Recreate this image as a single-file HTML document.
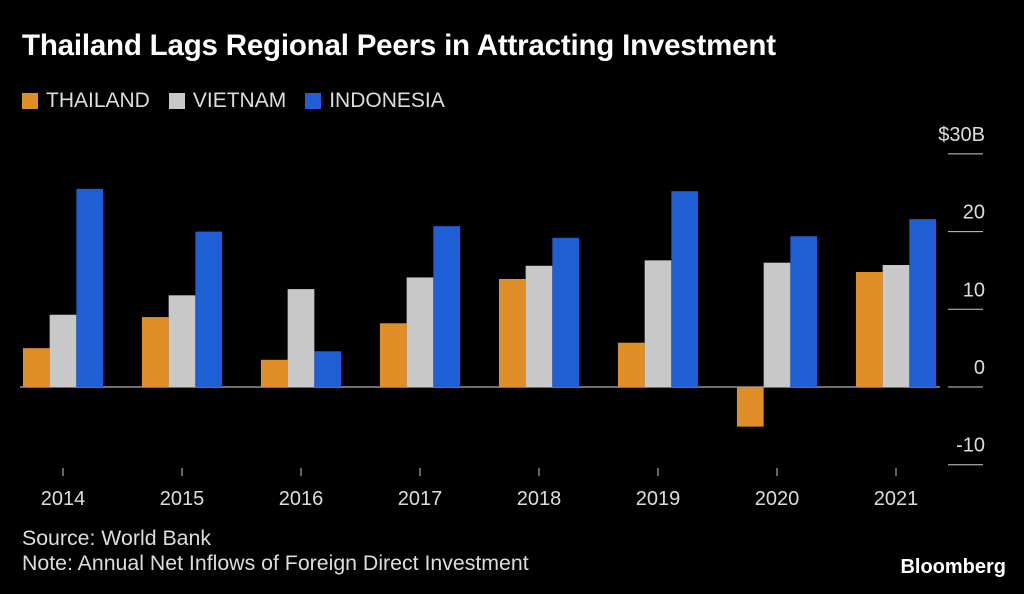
<!DOCTYPE html>
<html><head><meta charset="utf-8"><style>
body{margin:0;background:#000;width:1024px;height:594px;overflow:hidden;font-family:"Liberation Sans",sans-serif;color:#fff}
#title{position:absolute;left:22px;top:29px;font-size:29.5px;font-weight:bold;letter-spacing:-0.2px}
#legend{position:absolute;left:22px;top:89px;font-size:21px;color:#ddd;display:flex;gap:0}
.li{display:flex;align-items:center;margin-right:19px}
.sw{width:16px;height:16px;margin-right:8px}
#foot{position:absolute;left:22px;top:526px;font-size:21.3px;color:#ddd;line-height:25px}
#brand{position:absolute;right:18px;top:556px;font-size:20px;font-weight:bold}
svg{position:absolute;left:0;top:0}
</style></head><body>
<div id="title">Thailand Lags Regional Peers in Attracting Investment</div>
<div id="legend">
<div class="li"><div class="sw" style="background:#e08f28"></div>THAILAND</div>
<div class="li"><div class="sw" style="background:#c8c8c8"></div>VIETNAM</div>
<div class="li"><div class="sw" style="background:#1f5fd6"></div>INDONESIA</div>
</div>
<svg id="chart" width="1024" height="594"></svg>
<div id="foot">Source: World Bank<br>Note: Annual Net Inflows of Foreign Direct Investment</div>
<div id="brand">Bloomberg</div>
<script>
const years=["2014","2015","2016","2017","2018","2019","2020","2021"];
const thailand=[5.0,9.0,3.5,8.2,13.9,5.7,-5.1,14.8];
const vietnam=[9.3,11.8,12.6,14.1,15.6,16.3,16.0,15.7];
const indonesia=[25.5,20.0,4.6,20.7,19.2,25.2,19.4,21.6];
const ticks=[30,20,10,0,-10];
const tickLabels=["$30B","20","10","0","-10"];
const NS="http://www.w3.org/2000/svg";
const svg=document.getElementById('chart');
const y=v=>387-v*7.77;
const xc=i=>63+i*119;
const bw=26.7;
function mk(t,a){const e=document.createElementNS(NS,t);for(const k in a)e.setAttribute(k,a[k]);svg.appendChild(e);return e;}
ticks.forEach((t,i)=>{
 const l=mk('line',{x1:948,x2:983,y1:y(t),y2:y(t),stroke:'#ccc','stroke-width':1});
 
 
 const tx=mk('text',{x:985,y:y(t)-13,'text-anchor':'end',fill:'#ddd','font-size':20,'font-family':'Liberation Sans, sans-serif'});
 tx.textContent=tickLabels[i];
 
 
});
const z=mk('line',{x1:20,x2:940,y1:y(0),y2:y(0),stroke:'#ddd','stroke-width':1});


const series=[[thailand,'#e08f28','thailand'],[vietnam,'#c8c8c8','vietnam'],[indonesia,'#1f5fd6','indonesia']];
years.forEach((yr,i)=>{
 series.forEach((s,j)=>{
  const v=s[0][i];const x=xc(i)-1.5*bw+j*bw;
  const r=mk('rect',{x:x,y:Math.min(y(v),y(0)),width:bw,height:Math.abs(y(v)-y(0)),fill:s[1]});
  
  
 });
 const tk=mk('line',{x1:xc(i),x2:xc(i),y1:468,y2:476,stroke:'#ccc'});
 
 
 const t=mk('text',{x:xc(i),y:505,'text-anchor':'middle',fill:'#ddd','font-size':20,'font-family':'Liberation Sans, sans-serif'});
 t.textContent=yr;
 
 
});
</script>
</body></html>
